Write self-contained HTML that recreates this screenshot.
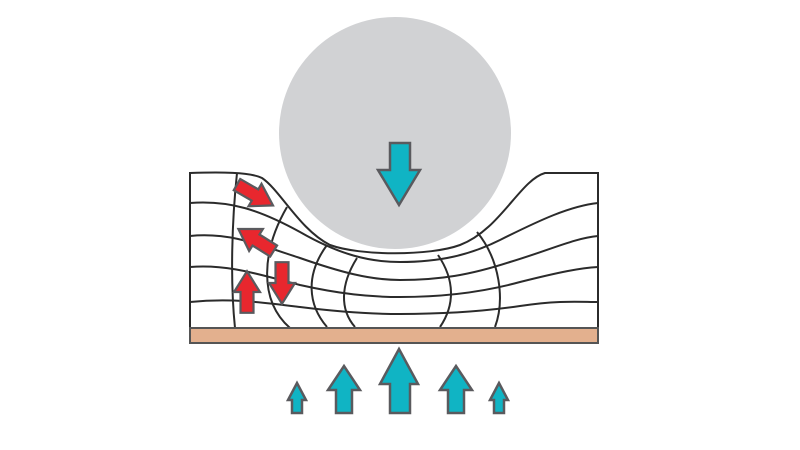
<!DOCTYPE html>
<html><head><style>html,body{margin:0;padding:0;background:#fff}svg{display:block}</style></head><body>
<svg width="800" height="450" viewBox="0 0 800 450" xmlns="http://www.w3.org/2000/svg">
<g fill="none" stroke="#2b2b2b" stroke-width="2">
<path d="M190,328 L190,173 C220,172 250,172 262,178 C280,190 300,230 330,245 C360,256 430,256 460,245 C500,230 520,180 545,173 L598,173 L598,328"/>
<path d="M190,203 C230,200 260,210 300,232 C340,255 370,262 400,262 C440,262 470,255 500,240 C540,220 570,206 598,203"/>
<path d="M190,236 C230,232 260,245 300,258 C340,272 370,280 400,280 C440,280 470,275 510,262 C550,250 575,238 598,236"/>
<path d="M190,267 C230,264 260,275 300,285 C340,294 370,297 400,297 C440,297 480,293 520,282 C560,272 580,268 598,267"/>
<path d="M190,302 C230,298 260,302 300,307 C340,312 370,314 400,314 C440,314 480,312 520,306 C560,300 580,302 598,302"/>
<path d="M237,173 C232,220 230,280 235,328"/>
<path d="M287,207 C262,250 258,300 290,328"/>
<path d="M327,245 C305,275 308,305 327,327"/>
<path d="M357,258 C340,285 340,310 355,327"/>
<path d="M438,255 C455,280 455,305 440,327"/>
<path d="M477,232 C500,260 505,300 495,327"/>
</g>
<circle cx="395" cy="133" r="116" fill="#d1d2d4"/>
<rect x="190" y="328" width="408" height="15" fill="#e3b08e" stroke="#555" stroke-width="2"/>
<g fill="#10b4c4" stroke="#5a5a5e" stroke-width="2.5">
<polygon points="390,143 410,143 410,170 420,170 399,205 378,170 390,170"/>
<polygon points="390,413 410,413 410,384 418,384 399,349 380,384 390,384"/>
<polygon points="336,413 352,413 352,390 360,390 344,366 328,390 336,390"/>
<polygon points="448,413 464,413 464,390 472,390 456,366 440,390 448,390"/>
<polygon points="292,413 302,413 302,400 306,400 297,383 288,400 292,400"/>
<polygon points="494,413 504,413 504,400 508,400 499,383 490,400 494,400"/>
</g>
<g fill="#e8272e" stroke="#5a5a5e" stroke-width="1.7">
<polygon points="-5,16 5,16 5,0 10,0 0,-16 -10,0 -5,0" transform="translate(255,195) rotate(120) scale(1.3)"/>
<polygon points="-5,16 5,16 5,0 10,0 0,-16 -10,0 -5,0" transform="translate(256,240) rotate(-58) scale(1.3)"/>
<polygon points="-5,16 5,16 5,0 10,0 0,-16 -10,0 -5,0" transform="translate(282,283) rotate(180) scale(1.3)"/>
<polygon points="-5,16 5,16 5,0 10,0 0,-16 -10,0 -5,0" transform="translate(247,292) scale(1.3)"/>
</g>
</svg>
</body></html>
